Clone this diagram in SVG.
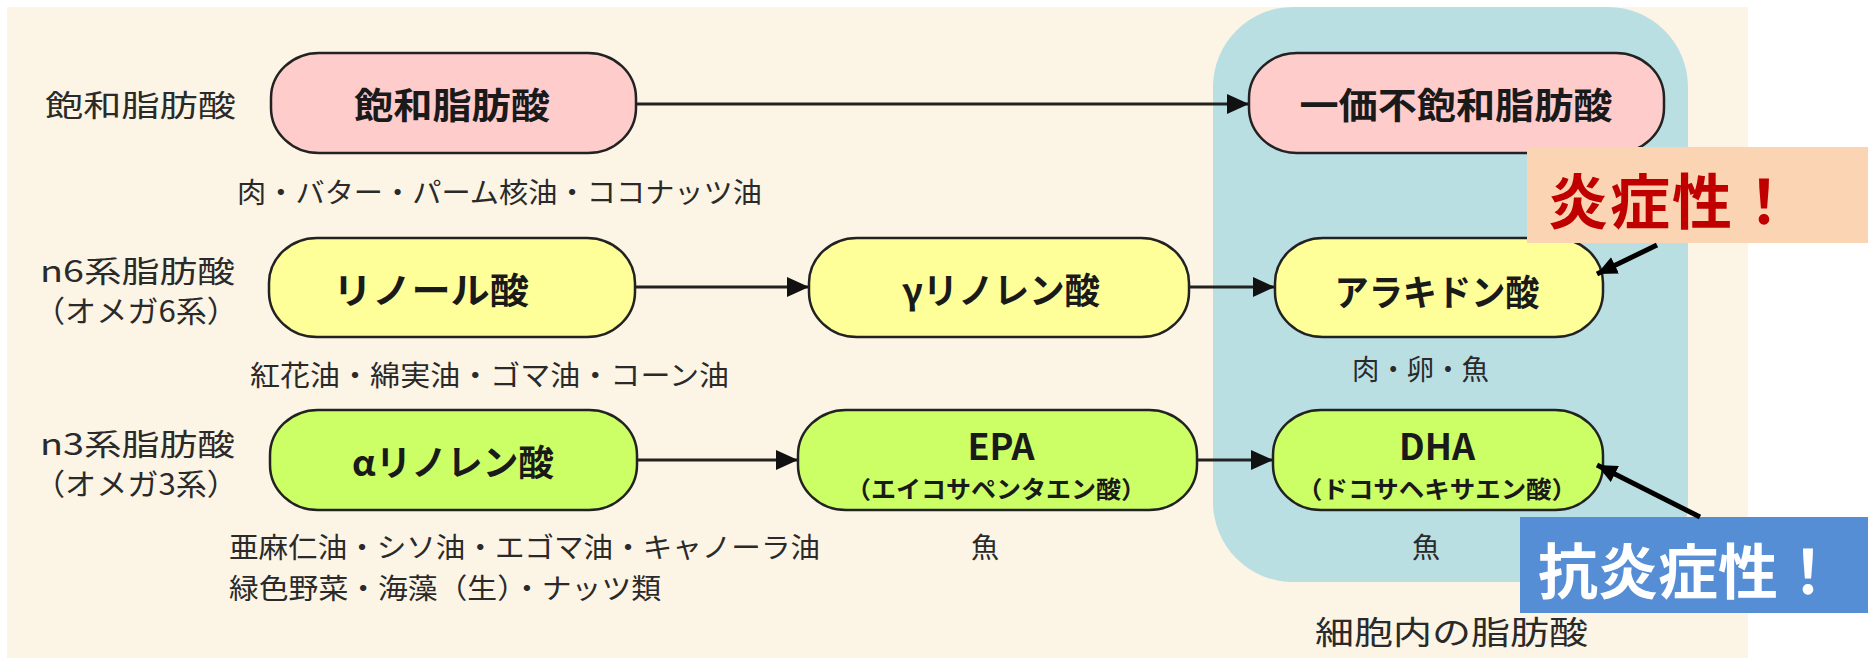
<svg xmlns="http://www.w3.org/2000/svg" width="1868" height="664" viewBox="0 0 1868 664">
<style>
text { font-family: "Noto Sans CJK JP", "Noto Sans", sans-serif; fill: #1a1a1a; }
.nt { font-size: 36px; font-weight: bold; text-anchor: middle; dominant-baseline: central; }
.sub { font-size: 24px; font-weight: bold; text-anchor: middle; dominant-baseline: central; }
.lbl { font-size: 30px; dominant-baseline: central; fill: #2a2a2a; }
.food { font-size: 28px; dominant-baseline: central; fill: #2a2a2a; }
.node { stroke: #222; stroke-width: 2.5; }
.pink { fill: #ffcccc; }
.yellow { fill: #ffff99; }
.green { fill: #ccff66; }
.conn { stroke: #222; stroke-width: 3; fill: none; marker-end: url(#ah); }
.ann { stroke: #000; stroke-width: 5; fill: none; marker-end: url(#ah2); }
.big { font-size: 60px; font-weight: bold; dominant-baseline: central; }
</style>
<defs>
<marker id="ah" markerUnits="userSpaceOnUse" markerWidth="22" markerHeight="20" refX="22" refY="10" orient="auto">
<path d="M0,0 L22,10 L0,20 z" fill="#111"/>
</marker>
<marker id="ah2" markerUnits="userSpaceOnUse" markerWidth="20" markerHeight="18" refX="20" refY="9" orient="auto">
<path d="M0,0 L20,9 L0,18 z" fill="#000"/>
</marker>
</defs>
<rect id="background" x="7" y="7" width="1741" height="651" fill="#fcf4e5"/>
<rect id="cell-region" x="1213" y="7" width="475" height="575" rx="80" ry="80" fill="#b9dfe3"/>
<g id="connectors">
<path class="conn" d="M636,104 L1249,104"/>
<path class="conn" d="M635,287 L809,287"/>
<path class="conn" d="M1189,287 L1275,287"/>
<path class="conn" d="M637,460 L798,460"/>
<path class="conn" d="M1197,460 L1273,460"/>
</g>
<g id="label-saturated"><text class="lbl" x="45" y="103" textLength="191" lengthAdjust="spacingAndGlyphs">飽和脂肪酸</text></g>
<g id="label-n6">
<text class="lbl" x="40" y="269" textLength="195" lengthAdjust="spacingAndGlyphs">n6系脂肪酸</text>
<text class="lbl" x="34" y="309" textLength="204" lengthAdjust="spacingAndGlyphs">（オメガ6系）</text>
</g>
<g id="label-n3">
<text class="lbl" x="40" y="442" textLength="195" lengthAdjust="spacingAndGlyphs">n3系脂肪酸</text>
<text class="lbl" x="34" y="482" textLength="204" lengthAdjust="spacingAndGlyphs">（オメガ3系）</text>
</g>
<g id="node-saturated">
<rect class="node pink" x="271" y="53" width="365" height="100" rx="48" ry="45"/>
<text class="nt" x="452" y="103" textLength="196" lengthAdjust="spacingAndGlyphs">飽和脂肪酸</text>
</g>
<g id="node-mufa">
<rect class="node pink" x="1249" y="53" width="415" height="100" rx="48" ry="45"/>
<text class="nt" x="1456" y="103" textLength="313" lengthAdjust="spacingAndGlyphs">一価不飽和脂肪酸</text>
</g>
<g id="node-linoleic">
<rect class="node yellow" x="269" y="238" width="366" height="99" rx="48" ry="45"/>
<text class="nt" x="431" y="288" textLength="196" lengthAdjust="spacingAndGlyphs">リノール酸</text>
</g>
<g id="node-gla">
<rect class="node yellow" x="809" y="238" width="380" height="99" rx="48" ry="45"/>
<text class="nt" x="1001" y="288" textLength="198" lengthAdjust="spacingAndGlyphs">γリノレン酸</text>
</g>
<g id="node-arachidonic">
<rect class="node yellow" x="1275" y="238" width="328" height="99" rx="48" ry="45"/>
<text class="nt" x="1437" y="290" textLength="205" lengthAdjust="spacingAndGlyphs">アラキドン酸</text>
</g>
<g id="node-ala">
<rect class="node green" x="270" y="410" width="367" height="100" rx="48" ry="45"/>
<text class="nt" x="453" y="460" textLength="202" lengthAdjust="spacingAndGlyphs">αリノレン酸</text>
</g>
<g id="node-epa">
<rect class="node green" x="798" y="410" width="399" height="100" rx="48" ry="45"/>
<text class="nt" x="1001" y="444">EPA</text>
<text class="sub" x="996" y="487" textLength="300" lengthAdjust="spacingAndGlyphs">（エイコサペンタエン酸）</text>
</g>
<g id="node-dha">
<rect class="node green" x="1273" y="410" width="330" height="100" rx="48" ry="45"/>
<text class="nt" x="1437" y="444">DHA</text>
<text class="sub" x="1437" y="487" textLength="280" lengthAdjust="spacingAndGlyphs">（ドコサヘキサエン酸）</text>
</g>
<g id="foods">
<text class="food" x="237" y="191" textLength="525" lengthAdjust="spacingAndGlyphs">肉・バター・パーム核油・ココナッツ油</text>
<text class="food" x="250" y="374" textLength="479" lengthAdjust="spacingAndGlyphs">紅花油・綿実油・ゴマ油・コーン油</text>
<text class="food" x="1352" y="368" textLength="137" lengthAdjust="spacingAndGlyphs">肉・卵・魚</text>
<text class="food" x="229" y="546" textLength="591" lengthAdjust="spacingAndGlyphs">亜麻仁油・シソ油・エゴマ油・キャノーラ油</text>
<text class="food" x="229" y="587" textLength="432" lengthAdjust="spacingAndGlyphs">緑色野菜・海藻（生）・ナッツ類</text>
<text class="food" x="985" y="546" text-anchor="middle">魚</text>
<text class="food" x="1426" y="546" text-anchor="middle">魚</text>
</g>
<g id="label-cell"><text class="lbl" x="1315" y="630" textLength="273" lengthAdjust="spacingAndGlyphs" style="font-size:32px">細胞内の脂肪酸</text></g>
<g id="callout-inflammatory">
<rect x="1527" y="147" width="341" height="96" fill="#fbd4b4"/>
<text class="big" x="1548" y="197" textLength="246" lengthAdjust="spacing" style="fill:#c00000">炎症性！</text>
</g>
<g id="callout-anti">
<rect x="1520" y="517" width="348" height="96" fill="#558ed5"/>
<text class="big" x="1538" y="567" style="fill:#ffffff">抗炎症性！</text>
</g>
<g id="callout-arrows">
<path class="ann" d="M1657,245 L1597,274"/>
<path class="ann" d="M1700,517 L1597,465"/>
</g>
</svg>
